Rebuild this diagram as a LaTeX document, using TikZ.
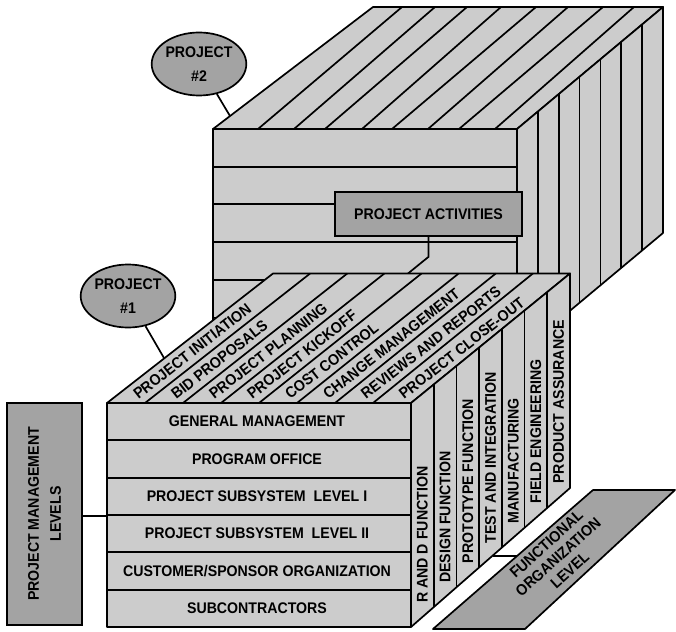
\documentclass[tikz,border=0pt]{standalone}
\usepackage{fontspec}
\setmainfont{Liberation Sans}[FakeStretch=0.92]
\usetikzlibrary{shapes.geometric}
\definecolor{cubegray}{RGB}{204,204,204}
\definecolor{tabgray}{RGB}{163,163,163}
\newcommand{\lblfont}{\fontsize{15.4}{24}\selectfont\bfseries}

\begin{document}
\begin{tikzpicture}[x=1pt, y=-1pt,
    face/.style={draw, fill=cubegray, line width=1.7pt, line join=round},
    edge/.style={line width=1.7pt},
    tab/.style={draw, fill=tabgray, line width=1.7pt, align=center, font=\lblfont},
    oval/.style={ellipse, draw, fill=tabgray, line width=1.7pt, minimum width=90,
                 minimum height=63, inner sep=0pt, align=center, font=\lblfont},
    lbl/.style={inner sep=0pt, font=\lblfont},
    conn/.style={line width=1.7pt}
  ]
  \useasboundingbox (0,0) rectangle (676,631);

  \draw[face] (213,129) -- (373,7) -- (663,7) -- (517,129) -- cycle;
  \foreach \f/\b in {258/402, 294/435, 325/467, 362/501, 392/536, 428/568, 459/603, 495/634}
    \draw[edge] (\f,129) -- (\b,7);
  \draw[face] (517,129) -- (663,7) -- (663,233) -- (517,355) -- cycle;
  \foreach \k in {1,...,6}
    \draw[edge] ({517+\k*20.86},{129-\k*17.43}) -- ({517+\k*20.86},{355-\k*17.43});
  \draw[face] (213,129) rectangle (517,355);
  \foreach \k in {1,...,5}
    \draw[edge] (213,{129+\k*37.67}) -- (517,{129+\k*37.67});

  \node[tab, minimum width=187, minimum height=44] (act) at (428.5,214) {PROJECT ACTIVITIES};
  \coordinate (actfoot) at (408,273.5);
  \draw[conn] (act.south) -- ++(0,20) -- (actfoot);

  \draw[face] (107,403) -- (273,273.5) -- (570,273.5) -- (411,403) -- cycle;
  \foreach \i in {1,...,7}
    \draw[edge] ({107+\i*38},403) -- ({273+\i*37.125},273.5);
  \draw[face] (411,403) -- (570,273.5) -- (570,488) -- (411,627) -- cycle;
  \foreach \j in {1,...,6}
    \draw[edge] ({411+\j*22.71},{403-\j*18.5}) -- ({411+\j*22.71},{627-\j*19.86});
  \draw[face] (107,403) rectangle (411,627);
  \foreach \k in {1,...,5}
    \draw[edge] (107,{403+\k*37.33}) -- (411,{403+\k*37.33});

  \foreach \t [count=\k] in {GENERAL MANAGEMENT, PROGRAM OFFICE,
      PROJECT SUBSYSTEM\ \ LEVEL I, PROJECT SUBSYSTEM\ \ LEVEL II,
      {CUSTOMER/SPONSOR ORGANIZATION}, SUBCONTRACTORS}
    \node[lbl] (lev\k) at (257,{384.3+37.33*\k}) {\t};

  \foreach \t [count=\i from 0] in {PROJECT INITIATION, BID PROPOSALS, PROJECT PLANNING,
      PROJECT KICKOFF, COST CONTROL, CHANGE MANAGEMENT, REVIEWS AND REPORTS, PROJECT CLOSE-OUT}
    \node[lbl, rotate=38, anchor=west] (task\i) at ({126+38*\i+0.055*(165.56-0.875*\i)},395.9) {\t};

  \foreach \t [count=\j from 0] in {R AND D FUNCTION, DESIGN FUNCTION, PROTOTYPE FUNCTION,
      TEST AND INTEGRATION, MANUFACTURING, FIELD ENGINEERING, PRODUCT ASSURANCE}
    \node[lbl, rotate=90, anchor=west] (fn\j) at ({422.36+22.71*\j},{603-19.86*\j}) {\t};

  \node[tab, rotate=90, minimum width=222, minimum height=75,
        font=\fontsize{15.4}{22}\selectfont\bfseries] (pml) at (44.5,514)
    {PROJECT MANAGEMENT\\LEVELS};
  \coordinate (pmlfoot) at (107,516);
  \draw[conn] (pmlfoot -| pml.south) -- (pmlfoot);

  \node[oval] (proj1) at (128,296) {PROJECT\\\#1};
  \coordinate (proj1foot) at (164,358);
  \draw[conn] (proj1) -- (proj1foot);

  \node[oval] (proj2) at (199,64) {PROJECT\\\#2};
  \coordinate (proj2foot) at (230,116);
  \draw[conn] (proj2) -- (proj2foot);

  \draw[face, fill=tabgray] (433,629) -- (593,490) -- (675,490) -- (525,629) -- cycle;
  \node[lbl, rotate=42, align=center, font=\fontsize{15.4}{17.5}\selectfont\bfseries] (func)
    at (558,557) {FUNCTIONAL\\ORGANIZATION\\LEVEL};
  \coordinate (funcfoot) at (493,556);
  \coordinate (funcedge) at (517,556);
  \draw[conn] (funcfoot) -- (funcedge);
\end{tikzpicture}
\end{document}
